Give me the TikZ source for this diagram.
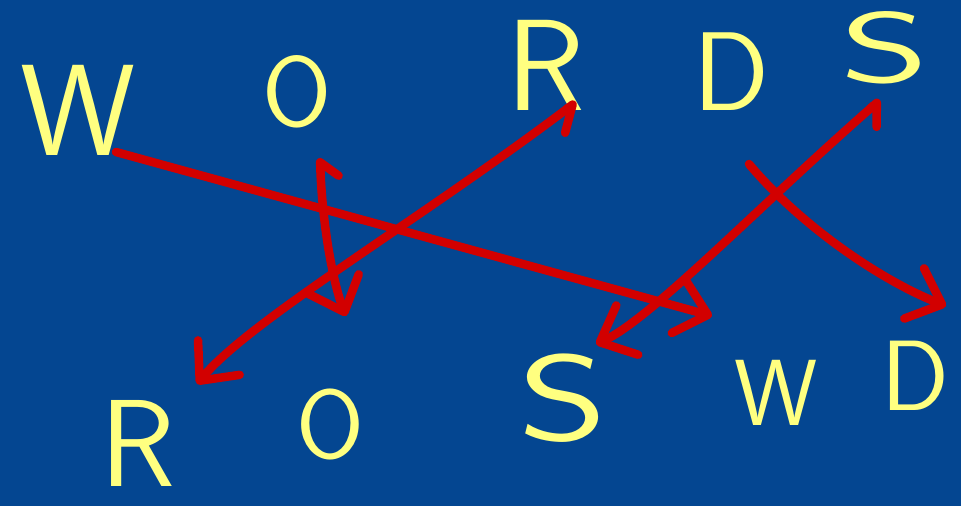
\documentclass[tikz,border=0pt]{standalone}
\usepackage{fontspec}
\usetikzlibrary{arrows.meta}
\definecolor{board}{RGB}{4,70,145}
\definecolor{chalk}{RGB}{255,255,128}
\definecolor{pen}{RGB}{210,0,0}
\begin{document}
\begin{tikzpicture}[x=1pt,y=-1pt,
  letter/.style={text=chalk, font=\sffamily\fontsize{#1}{#1}\selectfont, inner sep=0pt, anchor=base, text depth=0pt},
  link/.style={draw=pen, line width=8.5pt, line cap=round, line join=round},
  head/.style={-{Straight Barb[round,length=30pt,width=54pt]}},
  twohead/.style={{Straight Barb[round,right,length=#1,width=36pt]}-{Straight Barb[round,length=30pt,width=54pt]}}
]
\fill[board] (0,0) rectangle (961,506);
\useasboundingbox (0,0) rectangle (961,506);

% top row
\node[letter=130] (w1) at (78,155) {W};
\node[letter=100] (o1) at (297,126) {O};
\node[letter=130] (r1) at (546,110) {R};
\node[letter=112] (d1) at (731,110) {D};
\node[letter=100] (s1) at (885,82) {\scalebox{1.7}[1]{S}};
% bottom row
\node[letter=124] (r2) at (138,486) {R};
\node[letter=98]  (o2) at (330,458) {O};
\node[letter=122] (s2) at (563,440) {\scalebox{1.4}[1]{S}};
\node[letter=94]  (w2) at (776,425) {W};
\node[letter=100] (d2) at (915,410) {D};

% arrow end points
\coordinate (wA) at (116,152); \coordinate (wB) at (712,316);
\coordinate (oA) at (320,158); \coordinate (oB) at (346,316);
\coordinate (rA) at (576,102); \coordinate (rB) at (197,384);
\coordinate (sA) at (880,100); \coordinate (sB) at (596,344);
\coordinate (dA) at (749,164); \coordinate (dB) at (946,306);

\draw[link,head] (wA) -- (wB);
\draw[link,twohead=14pt] (oA) .. controls (322,220) and (332,280) .. (oB);
\draw[link,twohead=23pt] (rA) .. controls (420,220) and (250,320) .. (rB);
\draw[link,twohead=16pt] (sA) .. controls (760,205) and (650,320) .. (sB);
\draw[link,head] (dA) .. controls (800,225) and (880,280) .. (dB);
\end{tikzpicture}
\end{document}
